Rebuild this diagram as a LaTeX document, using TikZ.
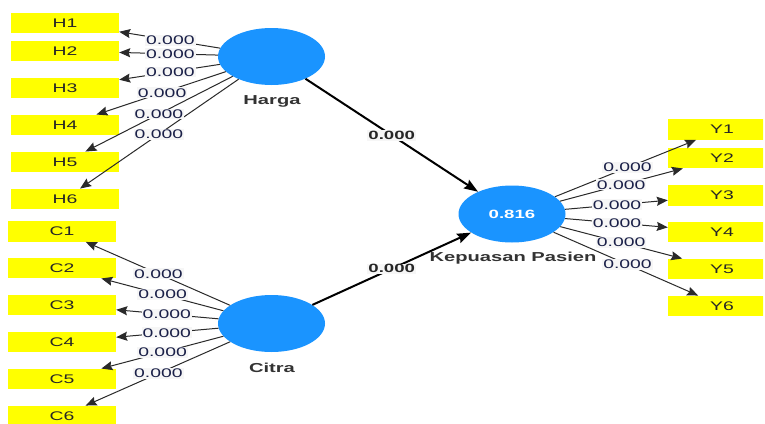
\documentclass[tikz,border=0pt]{standalone}
\usepackage{fontspec}
\setmainfont{Liberation Sans}[FakeStretch=1.55]
\usetikzlibrary{shapes.geometric,arrows.meta,calc}
\definecolor{lvblue}{HTML}{1A94FF}
\definecolor{indyel}{HTML}{FFFF00}
\definecolor{lblcol}{HTML}{1A2048}
\definecolor{lblbg}{HTML}{F6F6F6}
\definecolor{edgecol}{HTML}{2A2A2A}
\tikzset{
  ind/.style={rectangle, fill=indyel, minimum width=108pt, minimum height=20.5pt, inner sep=0pt,
    font=\fontsize{12.5}{14}\selectfont, text=black!85},
  lv/.style={ellipse, fill=lvblue, minimum width=107pt, minimum height=57pt, inner sep=0pt,
    font=\fontsize{12}{14}\selectfont\bfseries, text=white},
  lvname/.style={font=\fontsize{13}{15}\selectfont\bfseries, text=black!80, inner sep=0pt},
  load/.style={draw=edgecol, line width=1pt, -{Stealth[length=11pt,width=9pt,inset=1.5pt]}},
  struct/.style={draw=black, line width=2pt, -{Stealth[length=14pt,width=10pt,inset=2pt]}},
  lbl/.style={fill=lblbg, inner sep=1pt, text=lblcol, font=\fontsize{12.5}{14}\selectfont},
  slbl/.style={fill=lblbg, inner sep=1pt, text=black!85, font=\fontsize{12}{14}\selectfont\bfseries},
}
\begin{document}
\begin{tikzpicture}[x=1pt,y=-1pt]
\useasboundingbox (0,0) rectangle (765,423);
\fill[white] (0,0) rectangle (765,423);
\clip (0,0) rectangle (763,423);
% latent variables
\node[lv] (Harga) at (271.5,56.5) {};
\node[lv] (Citra) at (271.5,323.5) {};
\node[lv] (Kep) at (512,214) {0.816};
\node[lvname] (HargaT) at (272,101) {Harga};
\node[lvname] (CitraT) at (272,368) {Citra};
\node[lvname] (KepT) at (513,258) {Kepuasan Pasien};
% indicators H
\node[ind] (H1) at (65,23) {H1};
\node[ind] (H2) at (65,51) {H2};
\node[ind] (H3) at (65,88) {H3};
\node[ind] (H4) at (65,125) {H4};
\node[ind] (H5) at (65,162) {H5};
\node[ind] (H6) at (65,199) {H6};
% indicators C
\node[ind] (C1) at (62,231.5) {C1};
\node[ind] (C2) at (62,268) {C2};
\node[ind] (C3) at (62,305) {C3};
\node[ind] (C4) at (62,342) {C4};
\node[ind] (C5) at (62,379) {C5};
\node[ind] (C6) at (62,416) {C6};
% indicators Y
\node[ind] (Y1) at (722,129.5) {Y1};
\node[ind] (Y2) at (722,158) {Y2};
\node[ind] (Y3) at (722,195.5) {Y3};
\node[ind] (Y4) at (722,232) {Y4};
\node[ind] (Y5) at (722,269) {Y5};
\node[ind] (Y6) at (722,306) {Y6};
% loading edges
\foreach \i in {1,...,6} {
  \draw[load] (Harga) -- (H\i);
  \draw[load] (Citra) -- (C\i);
  \draw[load] (Kep) -- (Y\i);
}
% structural edges
\draw[struct] (Harga) -- (Kep);
\draw[struct] (Citra) -- (Kep);
% loading labels
\foreach \i/\f in {1/0.49,2/0.49,3/0.49,4/0.53,5/0.545,6/0.545} {
  \node[lbl] (lh\i) at ($(Harga)!\f!(H\i)$) {0.000};
}
\foreach \i/\f in {1/0.54,2/0.52,3/0.50,4/0.50,5/0.52,6/0.54} {
  \node[lbl] (lc\i) at ($(Citra)!\f!(C\i)$) {0.000};
}
\foreach \i/\f in {1/0.55,2/0.52,3/0.50,4/0.50,5/0.52,6/0.55} {
  \node[lbl] (ly\i) at ($(Kep)!\f!(Y\i)$) {0.000};
}
\node[slbl] (sh) at ($(Harga)!0.5!(Kep)$) {0.000};
\node[slbl] (sc) at ($(Citra)!0.5!(Kep)$) {0.000};
\end{tikzpicture}
\end{document}
